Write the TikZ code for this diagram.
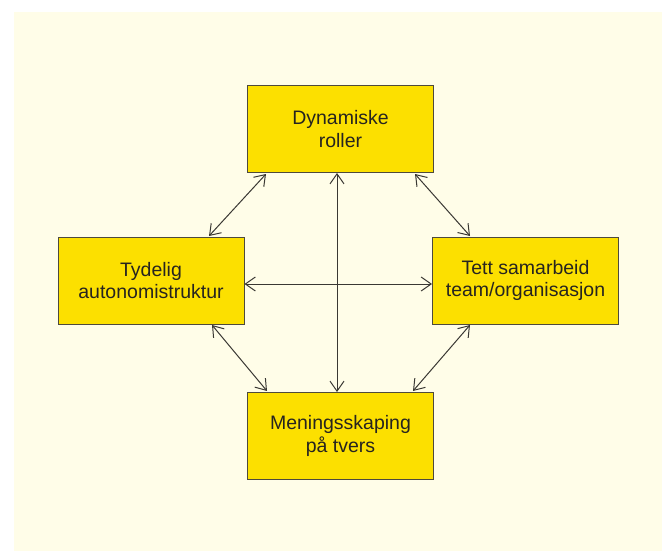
\documentclass[tikz,border=0pt]{standalone}
\usepackage{fontspec}
\setmainfont{Liberation Sans}
\usetikzlibrary{arrows.meta}
\definecolor{bgcream}{HTML}{FFFDE8}
\definecolor{boxfill}{HTML}{FCE000}
\definecolor{boxline}{HTML}{4E4A3C}
\definecolor{txt}{HTML}{262420}
\definecolor{arr}{HTML}{3A3833}
\begin{document}
\begin{tikzpicture}[x=1pt,y=-1pt,
  box/.style={draw=boxline,line width=1pt,fill=boxfill,minimum width=186pt,minimum height=87pt,
    align=center,text=txt,font=\fontsize{19.5}{22.5}\selectfont,inner sep=0pt},
  link/.style={draw=arr,line width=1pt,{Straight Barb[length=10pt,width=14pt,line width=1pt]}-{Straight Barb[length=10pt,width=14pt,line width=1pt]}}]
\useasboundingbox (0,0) rectangle (662,551);
\fill[bgcream] (14,12) rectangle (662,551);
\node[box] (top) at (340.5,129) {Dynamiske\\roller};
\node[box] (left) at (151,280.5) {Tydelig\\autonomistruktur};
\node[box] (right) at (525.5,280.5) {Tett samarbeid\\team/organisasjon};
\node[box] (bot) at (340.5,436) {Meningsskaping\\på tvers};
\coordinate (tl1) at (266,174);
\coordinate (tl2) at (209,236);
\coordinate (tr1) at (415,174);
\coordinate (tr2) at (470,236);
\coordinate (bl1) at (212,325);
\coordinate (bl2) at (267,391);
\coordinate (br1) at (470,325);
\coordinate (br2) at (413,391);
\draw[link] (tl1) -- (tl2);
\draw[link] (tr1) -- (tr2);
\draw[link] (bl1) -- (bl2);
\draw[link] (br1) -- (br2);
\draw[link] (top.south -| 337,0) -- (bot.north -| 337,0);
\draw[link] (left.east |- 0,284) -- (right.west |- 0,284);
\end{tikzpicture}
\end{document}
